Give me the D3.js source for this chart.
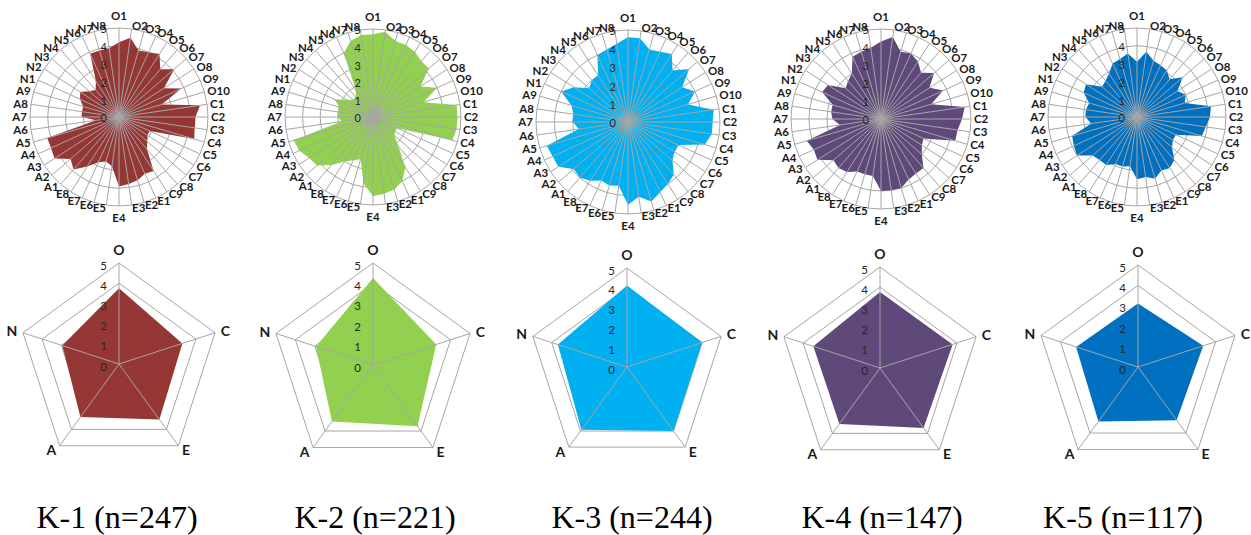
<!DOCTYPE html>
<html>
<head>
<meta charset="utf-8">
<script src="https://cdn.jsdelivr.net/npm/d3@7"></script>
<style>
  body { margin: 0; background: #fff; }
  svg { display: block; }
</style>
</head>
<body>
<svg id="chart" width="1251" height="535"></svg>
<script>
// Facet axes (44) and domain axes (5)
const facets = [
  "O1","O2","O3","O4","O5","O6","O7","O8","O9","O10",
  "C1","C2","C3","C4","C5","C6","C7","C8","C9",
  "E1","E2","E3","E4","E5","E6","E7","E8",
  "A1","A2","A3","A4","A5","A6","A7","A8","A9",
  "N1","N2","N3","N4","N5","N6","N7","N8"
];
const domains = ["O","C","E","A","N"];
const ticks = [0, 1, 2, 3, 4, 5];

// Cluster names, sizes and fill colours
const clusters = ["K-1","K-2","K-3","K-4","K-5"];
const sizes = [247, 221, 244, 147, 117];
const colors = ["#953735","#92D050","#00B0F0","#5F497A","#0070C0"];

// Facet means per cluster (O1-O10, C1-C9, E1-E8, A1-A9, N1-N8)
const facetK1 = [4.2,4.5,3.9,4.0,4.2,3.55,4.1,3.0,3.85,2.5, 4.6,4.3,4.3,4.4,1.9,1.9,2.1,2.4,3.6, 3.5,3.7,3.8,3.9,2.8,2.6,2.8,3.3, 3.9,3.6,4.3,4.2,4.2,1.3,2.1,2.1,2.1, 2.4,2.6,2.2,2.0,2.4,3.9,3.9,3.9];
const facetK2 = [4.7,4.9,4.5,4.5,4.4,4.2,4.2,3.2,4.0,3.0, 4.8,4.8,4.8,4.7,1.5,1.5,1.6,2.2,3.4, 4.0,4.3,4.4,4.5,3.8,2.5,2.7,3.0, 3.6,4.2,4.3,4.6,4.7,1.8,2.0,2.0,2.0, 2.4,1.8,1.5,1.5,1.8,4.0,4.5,4.7];
const facetK3 = [4.6,4.6,4.1,4.2,4.4,3.7,4.4,3.5,4.0,3.4, 4.7,4.6,4.6,4.35,3.0,3.0,3.2,3.8,4.0, 4.2,4.5,4.1,4.5,3.5,3.6,3.5,3.8, 4.0,3.9,4.5,4.5,4.6,2.7,3.0,3.0,3.2, 4.0,3.5,2.8,3.0,3.0,4.0,4.1,4.3];
const facetK4 = [4.3,4.6,3.9,4.0,3.8,3.4,3.9,3.2,3.8,2.9, 4.7,4.5,4.3,4.3,2.6,2.7,3.0,3.6,3.6, 3.7,4.0,4.0,4.0,3.2,3.2,3.2,3.5, 3.6,3.5,4.2,4.1,4.3,2.3,2.7,2.8,2.8, 3.6,3.5,2.6,2.8,3.0,3.8,3.9,4.0];
const facetK5 = [3.1,3.7,3.3,3.2,3.1,2.8,3.4,2.7,3.0,2.8, 4.2,4.1,3.9,3.8,2.4,2.4,2.6,3.2,3.4, 3.3,3.6,3.4,3.5,2.8,2.9,2.9,3.2, 3.2,3.3,4.0,3.9,3.8,2.6,2.9,2.9,2.8, 3.3,3.4,2.6,2.7,2.9,3.3,3.4,3.6];
const facetSeries = [facetK1, facetK2, facetK3, facetK4, facetK5];

// Domain means per cluster (O, C, E, A, N)
const domainK1 = [3.75,3.30,3.40,3.25,2.95];
const domainK2 = [4.27,3.26,3.71,3.42,2.94];
const domainK3 = [4.11,3.99,4.00,3.92,3.67];
const domainK4 = [3.76,3.78,3.67,3.42,3.47];
const domainK5 = [3.11,3.36,3.22,3.30,3.19];
const domainSeries = [domainK1, domainK2, domainK3, domainK4, domainK5];

// Panel geometry
const topCenters = [[119,117],[373,117],[628,122],[881,119],[1137,117]];
const topRadius  = [89, 88, 92, 90, 89];
const botCenters = [[119,364],[373,365],[627,367],[880,368],[1138,367]];
const botRadius  = [101, 102, 99, 101, 102];
const titleX = [117, 375, 632, 882, 1123];

const svg = d3.select("#chart");
const grid = "#a6a6a6";

function radar(center, R, labels, values, color, cfg) {
  const n = labels.length;
  const g = svg.append("g").attr("transform", `translate(${center[0]},${center[1]})`);
  const angle = d3.scaleLinear().domain([0, n]).range([0, 2 * Math.PI]);
  const r = d3.scaleLinear().domain([0, 5]).range([0, R]);
  const ring = d3.lineRadial()
    .angle((d, i) => angle(i))
    .radius(d => r(d))
    .curve(d3.curveLinearClosed);

  // concentric grid rings (under the fill)
  g.selectAll("path.ring").data(ticks.slice(1)).join("path")
    .attr("class", "ring")
    .attr("d", t => ring(labels.map(() => t)))
    .attr("fill", "none")
    .attr("stroke", grid)
    .attr("stroke-width", 1);

  // filled series
  g.append("path")
    .attr("d", ring(values))
    .attr("fill", color)
    .attr("stroke", "none");

  // spokes (drawn over the fill)
  g.selectAll("line.spoke").data(labels).join("line")
    .attr("class", "spoke")
    .attr("x1", 0).attr("y1", 0)
    .attr("x2", (d, i) => r(5) * Math.sin(angle(i)))
    .attr("y2", (d, i) => -r(5) * Math.cos(angle(i)))
    .attr("stroke", grid)
    .attr("stroke-width", 1);

  // value scale along the first axis
  g.selectAll("text.tick").data(ticks).join("text")
    .attr("class", "tick")
    .attr("x", -12)
    .attr("y", t => -r(t) + cfg.tickDy)
    .attr("dy", "0.35em")
    .attr("text-anchor", "end")
    .attr("font-family", "Lato, 'Liberation Sans', sans-serif")
    .attr("font-size", cfg.tickSize)
    .attr("fill", "#262626")
    .text(t => t);

  // axis labels
  g.selectAll("text.axis").data(labels).join("text")
    .attr("class", "axis")
    .each(function (d, i) {
      const a = angle(i);
      const s = Math.sin(a), c = Math.cos(a);
      const t = d3.select(this);
      if (Math.abs(s) < 0.01) {
        const y = c > 0 ? -(R + cfg.vPad + cfg.cap / 2) : (R + cfg.vPad + cfg.cap / 2);
        t.attr("x", 0).attr("y", y).attr("text-anchor", "middle");
      } else {
        const d0 = R + cfg.pad;
        t.attr("x", d0 * s).attr("y", -d0 * c)
         .attr("text-anchor", s > 0 ? "start" : "end");
      }
    })
    .attr("dy", "0.35em")
    .attr("font-family", "Lato, 'Liberation Sans', sans-serif")
    .attr("font-weight", "bold")
    .attr("font-size", cfg.labelSize)
    .attr("fill", "#1a1a1a")
    .text(d => d);
}

clusters.forEach((k, j) => {
  radar(topCenters[j], topRadius[j], facets, facetSeries[j], colors[j],
        { tickSize: 11, tickDy: 1.5, labelSize: 11.5, pad: 3, vPad: 8, cap: 8 });
  radar(botCenters[j], botRadius[j], domains, domainSeries[j], colors[j],
        { tickSize: 11.5, tickDy: 2.5, labelSize: 14, pad: 6, vPad: 8, cap: 10 });
  svg.append("text")
    .attr("x", titleX[j]).attr("y", 528)
    .attr("text-anchor", "middle")
    .attr("font-family", "'Liberation Serif', 'Times New Roman', serif")
    .attr("font-size", 32)
    .attr("fill", "#000")
    .text(`${k} (n=${sizes[j]})`);
});
</script>
</body>
</html>
